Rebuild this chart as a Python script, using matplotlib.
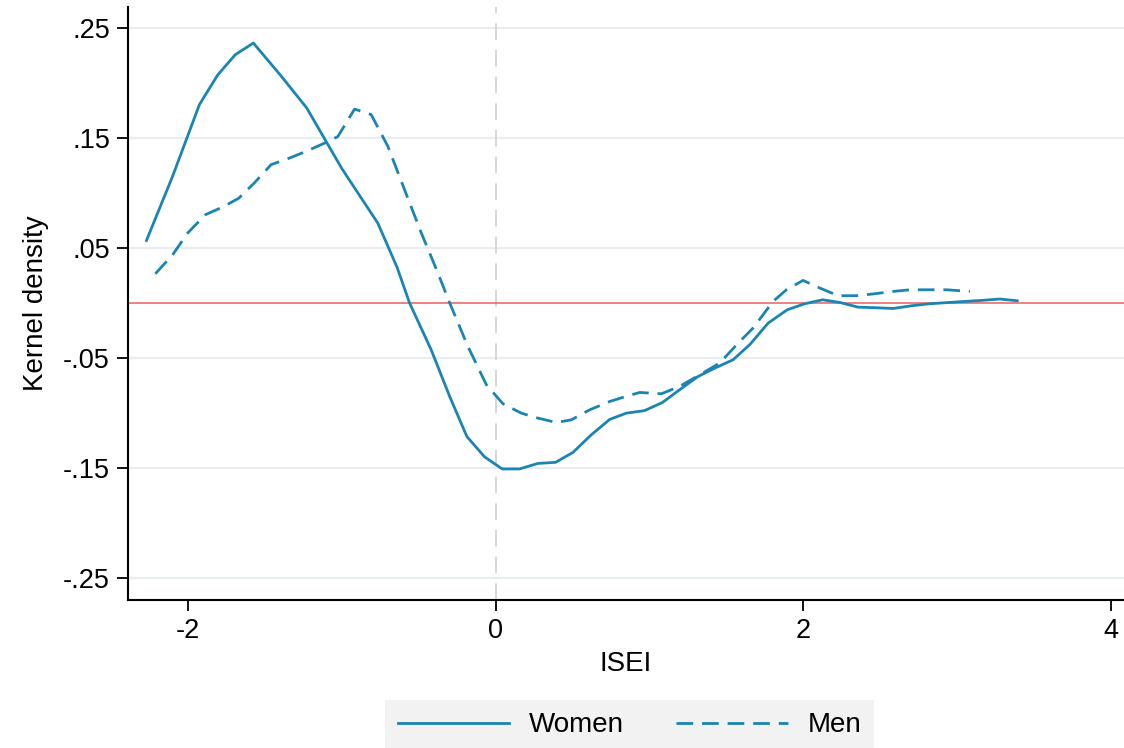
import matplotlib
matplotlib.use("Agg")
import matplotlib.pyplot as plt

# ISEI grid and kernel density differences
women_x = [-2.27, -2.10, -1.926, -1.807, -1.692, -1.575, -1.40, -1.228, -1.00, -0.766,
           -0.64, -0.56, -0.418, -0.299, -0.187, -0.072, 0.043, 0.156, 0.275, 0.39,
           0.503, 0.622, 0.742, 0.85, 0.969, 1.085, 1.197, 1.316, 1.425, 1.544,
           1.653, 1.772, 1.896, 2.01, 2.126, 2.238, 2.357, 2.47, 2.585, 2.705,
           2.824, 2.94, 3.051, 3.165, 3.279, 3.392]
women_y = [0.0566, 0.115, 0.180, 0.207, 0.2255, 0.236, 0.207, 0.177, 0.122, 0.0724,
           0.032, 0.0, -0.043, -0.085, -0.1215, -0.140, -0.151, -0.151, -0.146, -0.145,
           -0.136, -0.120, -0.106, -0.1003, -0.098, -0.0906, -0.079, -0.067, -0.0594, -0.0518,
           -0.038, -0.0185, -0.0064, -0.0009, 0.0027, 0.0003, -0.004, -0.0045, -0.0052, -0.0027,
           -0.0009, 0.0002, 0.0012, 0.0022, 0.0034, 0.0018]

men_x = [-2.212, -2.10, -2.002, -1.887, -1.774, -1.67, -1.568, -1.46, -1.34, -1.232,
         -1.113, -1.026, -0.917, -0.809, -0.70, -0.592, -0.483, -0.375, -0.299, -0.18,
         -0.06, 0.048, 0.167, 0.275, 0.395, 0.492, 0.612, 0.742, 0.85, 0.937,
         1.078, 1.197, 1.327, 1.457, 1.577, 1.674, 1.804, 1.891, 1.999, 2.108,
         2.227, 2.347, 2.466, 2.585, 2.694, 2.824, 2.932, 3.084]
men_y = [0.0264, 0.0436, 0.0634, 0.080, 0.087, 0.095, 0.109, 0.1255, 0.1315, 0.1376,
         0.145, 0.151, 0.176, 0.171, 0.142, 0.1027, 0.0634, 0.027, 0.0, -0.0397,
         -0.0745, -0.0918, -0.1003, -0.1048, -0.1088, -0.1064, -0.0973, -0.0897, -0.085, -0.0815,
         -0.0827, -0.076, -0.0655, -0.0548, -0.0367, -0.023, 0.0012, 0.0118, 0.0203, 0.0134,
         0.0064, 0.0064, 0.0082, 0.0103, 0.0118, 0.0118, 0.0118, 0.0103]

y_ticks = [0.25, 0.15, 0.05, -0.05, -0.15, -0.25]
y_tick_labels = [".25", ".15", ".05", "-.05", "-.15", "-.25"]
x_ticks = [-2, 0, 2, 4]

LINE_COLOR = "#1a85b3"

plt.rcParams["font.family"] = ["Liberation Sans", "DejaVu Sans"]

fig = plt.figure(figsize=(11.24, 7.48), dpi=100)
ax = fig.add_axes([0.1139, 0.198, 0.8861, 0.793])

for yt in y_ticks:
    ax.axhline(yt, color="#e8edf1", lw=1.6, zorder=0)
ax.axvline(0, color="#cfcfcf", lw=1.2, linestyle=(0, (10, 6)), zorder=1)
ax.axhline(0, color="#e8625e", lw=1.1, zorder=2)

ax.plot(women_x, women_y, color=LINE_COLOR, lw=2.0, label="Women", zorder=3)
ax.plot(men_x, men_y, color=LINE_COLOR, lw=2.0, linestyle=(0, (6.0, 3.2)),
        label="Men", zorder=3)

ax.set_xlim(-2.39, 4.086)
ax.set_ylim(-0.27, 0.269)
ax.set_xticks(x_ticks)
ax.set_xticklabels([str(t) for t in x_ticks])
ax.set_yticks(y_ticks)
ax.set_yticklabels(y_tick_labels)
ax.tick_params(axis="both", labelsize=19.5, length=8, width=1.3, direction="out", pad=5)

for side in ("top", "right"):
    ax.spines[side].set_visible(False)
for side in ("left", "bottom"):
    ax.spines[side].set_linewidth(1.5)

ax.set_xlabel("ISEI", fontsize=20, labelpad=5)
ax.set_ylabel("Kernel density", fontsize=20, labelpad=10)

leg = fig.legend(loc="lower center", bbox_to_anchor=(0.56, -0.004), ncol=2,
                 fontsize=20, frameon=True, fancybox=False, handlelength=4.0,
                 columnspacing=1.9, handletextpad=0.72, borderpad=0.45,
                 borderaxespad=0)
leg.get_frame().set_facecolor("#f2f2f2")
leg.get_frame().set_edgecolor("none")
leg.get_frame().set_alpha(1.0)

fig.savefig("out.png", dpi=100)
